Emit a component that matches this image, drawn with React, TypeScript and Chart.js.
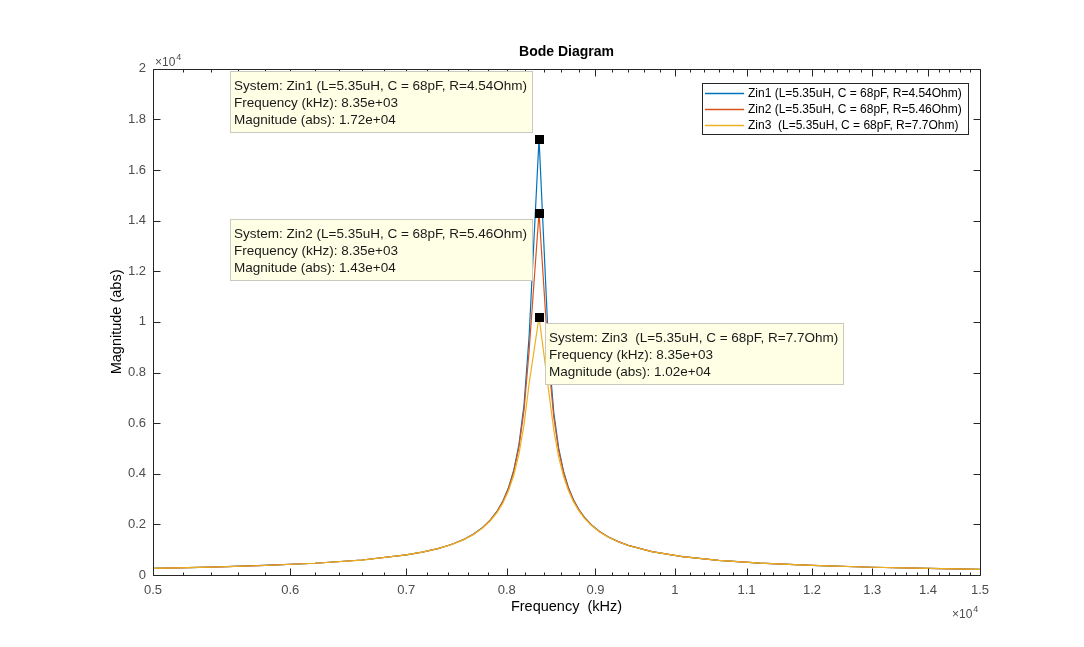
import { useEffect, useRef } from 'react';
import { Chart, registerables } from 'chart.js';

Chart.register(...registerables);

// Frequency samples (kHz) and |Zin|
const freqKHz = [5000, 5400, 5800, 6200, 6600, 7000, 7150, 7300, 7425, 7550, 7650, 7750, 7825, 7900, 7960, 8020, 8075, 8130, 8185, 8240, 8350, 8460, 8515, 8570, 8625, 8680, 8740, 8800, 8870, 8950, 9050, 9150, 9275, 9400, 9700, 10100, 10600, 11200, 12000, 13000, 14000, 15000];
const zin1 = [262, 312, 377, 465, 593, 794, 903, 1044, 1196, 1396, 1606, 1886, 2165, 2536, 2933, 3469, 4154, 5153, 6717, 9397, 17240, 8763, 6422, 5021, 4112, 3479, 2979, 2605, 2273, 1986, 1716, 1513, 1319, 1171, 927, 729, 580, 470, 378, 306, 259, 226];
const zin2 = [262, 312, 377, 465, 592, 793, 903, 1043, 1195, 1394, 1603, 1881, 2158, 2524, 2914, 3438, 4102, 5054, 6503, 8835, 14320, 8302, 6234, 4930, 4061, 3448, 2959, 2591, 2264, 1980, 1713, 1510, 1318, 1170, 926, 729, 580, 470, 378, 306, 259, 226];
const zin3 = [262, 312, 376, 464, 591, 792, 901, 1041, 1191, 1387, 1593, 1865, 2134, 2487, 2857, 3345, 3947, 4772, 5933, 7543, 10200, 7204, 5726, 4667, 3910, 3355, 2899, 2551, 2237, 1962, 1701, 1502, 1312, 1166, 924, 728, 580, 470, 377, 306, 259, 226];

const seriesNames = [
  'Zin1 (L=5.35uH, C = 68pF, R=4.54Ohm)',
  'Zin2 (L=5.35uH, C = 68pF, R=5.46Ohm)',
  'Zin3  (L=5.35uH, C = 68pF, R=7.7Ohm)',
];
const seriesColors = ['#0072BD', '#D95319', '#EDB120'];

const xMajorTicks = [5000, 6000, 7000, 8000, 9000, 10000, 11000, 12000, 13000, 14000, 15000];
const xTickLabels = ['0.5', '0.6', '0.7', '0.8', '0.9', '1', '1.1', '1.2', '1.3', '1.4', '1.5'];
const yTicks = [0, 2000, 4000, 6000, 8000, 10000, 12000, 14000, 16000, 18000, 20000];
const yTickLabels = ['0', '0.2', '0.4', '0.6', '0.8', '1', '1.2', '1.4', '1.6', '1.8', '2'];

const tipFreq = 8350;
const tipPlacement = ['above-left', 'below-left', 'below-right'];

const FONT = '"Liberation Sans", Arial, Helvetica, sans-serif';
const AXIS = '#262626';
const LABEL = '#4d4d4d';

const fmtE = (v: number) => {
  const [m, e] = v.toExponential(2).split('e');
  const n = Number(e);
  return `${m}e${n < 0 ? '-' : '+'}${String(Math.abs(n)).padStart(2, '0')}`;
};

const px = (v: number) => Math.round(v) + 0.5;

const matlabAxes = {
  id: 'matlabAxes',
  afterDatasetsDraw(chart: any) {
    const { ctx, chartArea: a, scales } = chart;
    const xs = scales.x, ys = scales.y;
    const L = px(a.left), R = px(a.right), T = px(a.top), B = px(a.bottom);

    ctx.save();
    ctx.strokeStyle = AXIS;
    ctx.lineWidth = 1;
    ctx.beginPath();
    ctx.rect(L, T, R - L, B - T);

    // inward ticks, bottom + top
    const xTick = (v: number, len: number) => {
      const x = px(xs.getPixelForValue(v));
      ctx.moveTo(x, B); ctx.lineTo(x, B - len);
      ctx.moveTo(x, T); ctx.lineTo(x, T + len);
    };
    xMajorTicks.forEach((v, i) => {
      xTick(v, 7);
      const next = xMajorTicks[i + 1];
      if (next) for (let k = 1; k < 5; k++) xTick(v + ((next - v) * k) / 5, 3);
    });
    yTicks.forEach(v => {
      const y = px(ys.getPixelForValue(v));
      ctx.moveTo(L, y); ctx.lineTo(L + 7, y);
      ctx.moveTo(R, y); ctx.lineTo(R - 7, y);
    });
    ctx.stroke();

    // exponent labels
    ctx.fillStyle = LABEL;
    ctx.textBaseline = 'alphabetic';
    ctx.textAlign = 'left';
    const expo = (x: number, y: number) => {
      ctx.font = `12px ${FONT}`;
      ctx.fillText('\u00d710', x, y);
      const w = ctx.measureText('\u00d710').width;
      ctx.font = `9px ${FONT}`;
      ctx.fillText('4', x + w + 1, y - 6);
    };
    expo(a.left + 2, a.top - 3);
    expo(a.right - 28, a.bottom + 43);

    // data tips
    const idx = freqKHz.indexOf(tipFreq);
    [zin1, zin2, zin3].forEach((s, i) => {
      const mx = xs.getPixelForValue(freqKHz[idx]);
      const my = ys.getPixelForValue(s[idx]);
      const lines = [
        `System: ${seriesNames[i]}`,
        `Frequency (kHz): ${fmtE(freqKHz[idx])}`,
        `Magnitude (abs): ${fmtE(s[idx])}`,
      ];
      ctx.font = `13.5px ${FONT}`;
      const w = Math.round(Math.max(...lines.map(t => ctx.measureText(t).width)) + 9);
      const h = 61;
      const place = tipPlacement[i];
      let bx = place.endsWith('left') ? mx - 7 - w : mx + 6;
      let by = place.startsWith('above') ? my - 7 - h : my + 6;
      bx = Math.round(bx); by = Math.round(by);
      ctx.fillStyle = '#FFFFE6';
      ctx.fillRect(bx, by, w, h);
      ctx.strokeStyle = '#C9C9C0';
      ctx.strokeRect(bx + 0.5, by + 0.5, w, h);
      ctx.fillStyle = '#1a1a1a';
      ctx.textBaseline = 'middle';
      lines.forEach((t, k) => ctx.fillText(t, bx + 4, by + 15 + k * 17));
      ctx.fillStyle = '#000';
      ctx.fillRect(Math.round(mx) - 4, Math.round(my) - 4, 9, 9);
    });

    // legend
    ctx.font = `12px ${FONT}`;
    const tw = Math.max(...seriesNames.map(t => ctx.measureText(t).width));
    const lw = Math.round(46 + tw + 6);
    const lx = Math.round(a.right - 12 - lw);
    const ly = Math.round(a.top + 14);
    ctx.fillStyle = '#fff';
    ctx.fillRect(lx, ly, lw, 51);
    ctx.strokeStyle = AXIS;
    ctx.strokeRect(lx + 0.5, ly + 0.5, lw, 51);
    seriesNames.forEach((t, k) => {
      const y = ly + 10 + k * 16;
      ctx.strokeStyle = seriesColors[k];
      ctx.lineWidth = 1.5;
      ctx.beginPath();
      ctx.moveTo(lx + 3, y + 0.5); ctx.lineTo(lx + 42, y + 0.5);
      ctx.stroke();
      ctx.fillStyle = '#000';
      ctx.textBaseline = 'middle';
      ctx.fillText(t, lx + 46, y + 1);
    });
    ctx.restore();
  },
};

export default function App() {
  const canvasRef = useRef<HTMLCanvasElement>(null);

  useEffect(() => {
    if (!canvasRef.current) return;
    const series = [zin1, zin2, zin3];

    const chart = new Chart(canvasRef.current, {
      type: 'line',
      data: {
        datasets: series.map((s, i) => ({
          label: seriesNames[i],
          data: freqKHz.map((f, j) => ({ x: f, y: s[j] })),
          borderColor: seriesColors[i],
          borderWidth: 1.2,
          pointRadius: 0,
          tension: 0,
          fill: false,
          order: 3 - i,
        })),
      },
      options: {
        animation: false,
        responsive: true,
        maintainAspectRatio: false,
        layout: { padding: { left: 0, right: 104, top: 0, bottom: 0 } },
        scales: {
          x: {
            type: 'logarithmic',
            min: 5000,
            max: 15000,
            afterBuildTicks: (scale: any) => { scale.ticks = xMajorTicks.map(value => ({ value })); },
            afterFit: (scale: any) => { scale.height = 72; },
            ticks: {
              autoSkip: false,
              maxRotation: 0,
              minRotation: 0,
              padding: 8,
              color: LABEL,
              font: { family: FONT, size: 13 },
              callback: (_v: any, i: number) => xTickLabels[i],
            },
            grid: { display: false, drawTicks: false },
            border: { display: false },
            title: {
              display: true,
              text: 'Frequency  (kHz)',
              color: '#000',
              font: { family: FONT, size: 14.5 },
              padding: { top: 0, bottom: 31 },
            },
          },
          y: {
            type: 'linear',
            min: 0,
            max: 20000,
            afterBuildTicks: (scale: any) => { scale.ticks = yTicks.map(value => ({ value })); },
            afterFit: (scale: any) => { scale.width = 153; },
            ticks: {
              padding: 7,
              color: LABEL,
              font: { family: FONT, size: 13 },
              callback: (_v: any, i: number) => yTickLabels[i],
            },
            grid: { display: false, drawTicks: false },
            border: { display: false },
            title: {
              display: true,
              text: 'Magnitude (abs)',
              color: '#000',
              font: { family: FONT, size: 14.5 },
              padding: { top: 108, bottom: 0 },
            },
          },
        },
        plugins: {
          legend: { display: false },
          tooltip: { enabled: false },
          title: {
            display: true,
            text: 'Bode Diagram',
            fullSize: false,
            color: '#000',
            font: { family: FONT, size: 14, weight: 'bold' },
            padding: { top: 44, bottom: 8 },
          },
        },
      },
      plugins: [matlabAxes],
    } as any);

    return () => { chart.destroy(); };
  }, []);

  return (
    <div style={{ position: 'fixed', left: 0, top: 0, width: 1084, height: 647, background: '#fff' }}>
      <canvas ref={canvasRef} />
    </div>
  );
}
